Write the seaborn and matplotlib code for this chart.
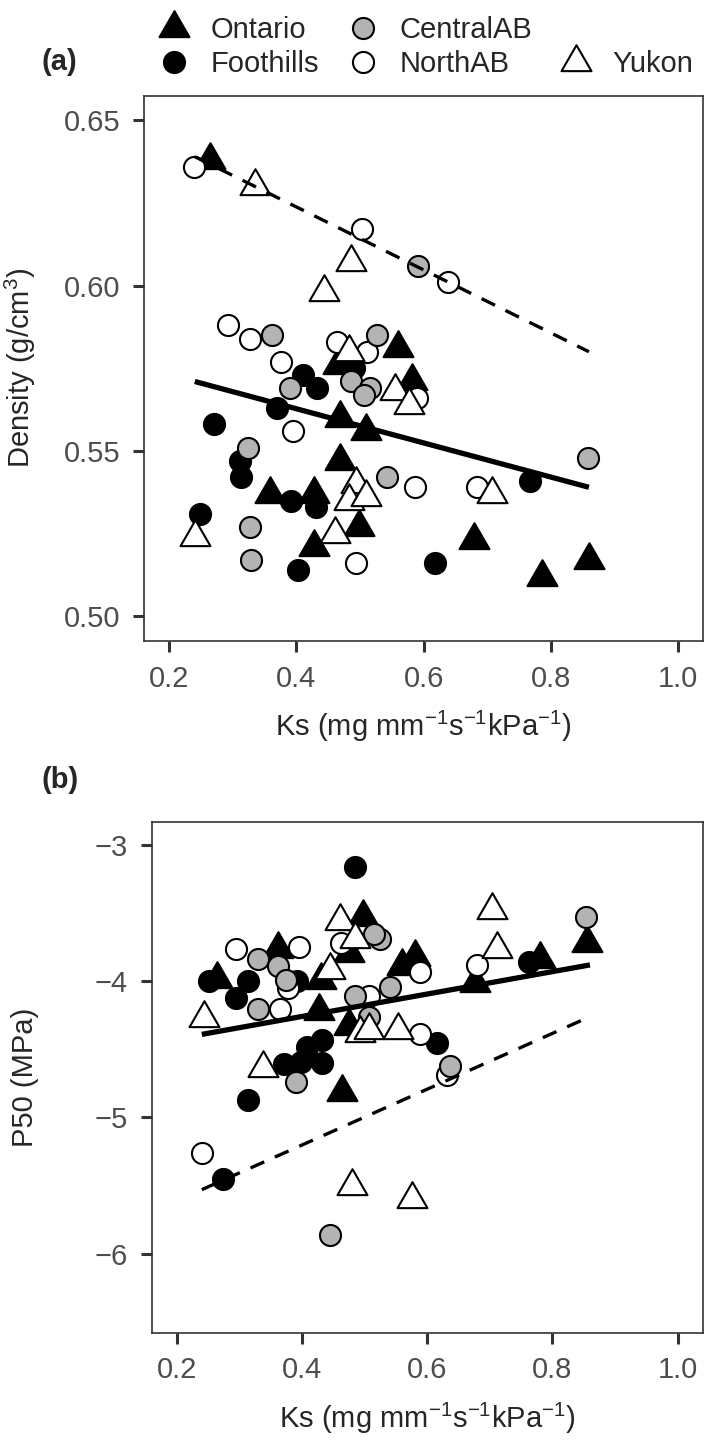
import numpy as np
import pandas as pd
import matplotlib
matplotlib.use("Agg")
import matplotlib.pyplot as plt
from matplotlib.lines import Line2D
from matplotlib.path import Path
import seaborn as sns

# ---- data ----
sites = ["Ontario", "Foothills", "CentralAB", "NorthAB", "Yukon"]

# (a) density vs Ks
ont_ks_a = [0.264, 0.559, 0.465, 0.582, 0.469, 0.509, 0.469, 0.359, 0.427, 0.498, 0.427, 0.679, 0.860, 0.786]
ont_dens = [0.638, 0.581, 0.576, 0.571, 0.560, 0.556, 0.547, 0.537, 0.537, 0.527, 0.521, 0.523, 0.517, 0.512]
foot_ks_a = [0.490, 0.411, 0.432, 0.369, 0.271, 0.311, 0.313, 0.392, 0.430, 0.248, 0.768, 0.618, 0.403]
foot_dens = [0.575, 0.573, 0.569, 0.563, 0.558, 0.547, 0.542, 0.535, 0.533, 0.531, 0.541, 0.516, 0.514]
cab_ks_a = [0.591, 0.362, 0.527, 0.390, 0.485, 0.516, 0.506, 0.324, 0.543, 0.858, 0.327, 0.328]
cab_dens = [0.606, 0.585, 0.585, 0.569, 0.571, 0.569, 0.567, 0.551, 0.542, 0.548, 0.527, 0.517]
nab_ks_a = [0.238, 0.503, 0.639, 0.293, 0.327, 0.464, 0.376, 0.511, 0.590, 0.395, 0.587, 0.684, 0.493]
nab_dens = [0.636, 0.617, 0.601, 0.588, 0.584, 0.583, 0.577, 0.580, 0.566, 0.556, 0.539, 0.539, 0.516]
yuk_ks_a = [0.334, 0.486, 0.443, 0.482, 0.555, 0.577, 0.493, 0.482, 0.509, 0.241, 0.461, 0.707]
yuk_dens = [0.630, 0.607, 0.598, 0.580, 0.568, 0.564, 0.540, 0.535, 0.536, 0.524, 0.525, 0.537]

# (b) P50 vs Ks
ont_ks_b = [0.498, 0.475, 0.361, 0.430, 0.265, 0.560, 0.581, 0.427, 0.475, 0.464, 0.855, 0.780, 0.677]
ont_p50 = [-3.53, -3.79, -3.76, -3.99, -3.98, -3.89, -3.82, -4.22, -4.33, -4.81, -3.72, -3.84, -4.01]
foot_ks_b = [0.484, 0.252, 0.314, 0.392, 0.294, 0.616, 0.432, 0.408, 0.371, 0.398, 0.432, 0.314, 0.274, 0.762]
foot_p50 = [-3.16, -4.00, -4.00, -4.00, -4.12, -4.45, -4.43, -4.48, -4.61, -4.59, -4.60, -4.87, -5.45, -3.86]
cab_ks_b = [0.525, 0.515, 0.329, 0.361, 0.375, 0.329, 0.541, 0.485, 0.507, 0.391, 0.445, 0.637, 0.853]
cab_p50 = [-3.69, -3.65, -3.84, -3.89, -3.99, -4.20, -4.04, -4.11, -4.26, -4.74, -5.86, -4.62, -3.53]
nab_ks_b = [0.463, 0.294, 0.395, 0.377, 0.365, 0.588, 0.507, 0.589, 0.241, 0.631, 0.680]
nab_p50 = [-3.72, -3.76, -3.75, -4.05, -4.20, -3.93, -4.11, -4.39, -5.26, -4.69, -3.88]
yuk_ks_b = [0.461, 0.485, 0.445, 0.244, 0.493, 0.507, 0.554, 0.337, 0.480, 0.576, 0.703, 0.711]
yuk_p50 = [-3.56, -3.69, -3.92, -4.27, -4.38, -4.36, -4.36, -4.64, -5.50, -5.60, -3.48, -3.76]

# fitted lines (end points)
fit_ks = [0.24, 0.86]
dens_fit_all = [0.571, 0.539]
dens_fit_dash = [0.639, 0.580]
p50_fit_all = [-4.39, -3.88]
p50_fit_dash = [-5.53, -4.26]

df_a = pd.concat([
    pd.DataFrame({"ks": ont_ks_a, "val": ont_dens, "site": "Ontario"}),
    pd.DataFrame({"ks": foot_ks_a, "val": foot_dens, "site": "Foothills"}),
    pd.DataFrame({"ks": nab_ks_a, "val": nab_dens, "site": "NorthAB"}),
    pd.DataFrame({"ks": cab_ks_a, "val": cab_dens, "site": "CentralAB"}),
    pd.DataFrame({"ks": yuk_ks_a, "val": yuk_dens, "site": "Yukon"}),
])
df_b = pd.concat([
    pd.DataFrame({"ks": ont_ks_b, "val": ont_p50, "site": "Ontario"}),
    pd.DataFrame({"ks": foot_ks_b, "val": foot_p50, "site": "Foothills"}),
    pd.DataFrame({"ks": nab_ks_b, "val": nab_p50, "site": "NorthAB"}),
    pd.DataFrame({"ks": cab_ks_b, "val": cab_p50, "site": "CentralAB"}),
    pd.DataFrame({"ks": yuk_ks_b, "val": yuk_p50, "site": "Yukon"}),
])

# ---- style ----
sns.set_style("ticks")
plt.rcParams["font.family"] = ["Liberation Sans", "DejaVu Sans"]
plt.rcParams["mathtext.fontset"] = "custom"
plt.rcParams["mathtext.rm"] = "Liberation Sans"
plt.rcParams["mathtext.it"] = "Liberation Sans"
plt.rcParams["mathtext.default"] = "regular"

FS = 21
# closed equilateral triangle, centred on its centroid
tri = Path([(-1, -0.577), (1, -0.577), (0, 1.155), (-1, -0.577)], closed=True)
site_style = {
    "Ontario": (tri, "black", 620),
    "Foothills": ("o", "black", 230),
    "CentralAB": ("o", "#b3b3b3", 230),
    "NorthAB": ("o", "white", 230),
    "Yukon": (tri, "white", 620),
}
order = ["Ontario", "Foothills", "NorthAB", "CentralAB", "Yukon"]

fig = plt.figure(figsize=(7.09, 14.47), dpi=100)
ax_a = fig.add_axes([0.203, 0.557, 0.789, 0.377])
ax_b = fig.add_axes([0.214, 0.079, 0.777, 0.353])

ks_label = "Ks (mg mm$^{-1}$s$^{-1}$kPa$^{-1}$)"


def draw_panel(ax, df, fit_all, fit_dash):
    for s in order:
        mk, fc, size = site_style[s]
        sns.scatterplot(data=df[df.site == s], x="ks", y="val", marker=mk, s=size,
                        color=fc, edgecolor="black", linewidth=1.5, ax=ax,
                        legend=False, zorder=3)
    ax.plot(fit_ks, fit_all, color="black", lw=3.8, solid_capstyle="butt", zorder=5)
    ax.plot(fit_ks, fit_dash, color="black", lw=2.4, dashes=(4.5, 3.5), zorder=5)
    ax.set_xlim(0.16, 1.04)
    ax.set_xticks([0.2, 0.4, 0.6, 0.8, 1.0])
    ax.set_xlabel(ks_label, fontsize=FS, labelpad=12)
    for sp in ax.spines.values():
        sp.set_visible(True)
        sp.set_linewidth(1.2)
        sp.set_color("#333333")
    ax.tick_params(axis="both", labelsize=FS, labelcolor="#4d4d4d", length=8,
                   width=2.2, color="#333333", pad=9)


draw_panel(ax_a, df_a, dens_fit_all, dens_fit_dash)
ax_a.set_ylim(0.4925, 0.6575)
ax_a.set_yticks([0.50, 0.55, 0.60, 0.65])
ax_a.set_yticklabels(["0.50", "0.55", "0.60", "0.65"])
ax_a.set_ylabel("Density (g/cm$^3$)", fontsize=FS)
ax_a.yaxis.set_label_coords(-0.19, 0.5)

draw_panel(ax_b, df_b, p50_fit_all, p50_fit_dash)
ax_b.set_ylim(-6.58, -2.83)
ax_b.set_yticks([-3, -4, -5, -6])
ax_b.set_ylabel("P50 (MPa)", fontsize=FS)
ax_b.yaxis.set_label_coords(-0.205, 0.5)

fig.text(0.058, 0.957, "(a)", fontsize=FS, fontweight="bold", va="center")
fig.text(0.058, 0.461, "(b)", fontsize=FS, fontweight="bold", va="center")

# legend fills column-wise; an empty slot puts Yukon on the second row
handles = []
for s in ["Ontario", "Foothills", "CentralAB", "NorthAB", None, "Yukon"]:
    if s is None:
        handles.append(Line2D([], [], linestyle="none", marker=None, label=" "))
        continue
    mk, fc, size = site_style[s]
    handles.append(Line2D([], [], linestyle="none", marker=mk, markersize=np.sqrt(size),
                          markerfacecolor=fc, markeredgecolor="black", markeredgewidth=1.5,
                          label=s))
fig.legend(handles=handles, ncol=3, loc="upper left", bbox_to_anchor=(0.225, 0.989),
           frameon=False, fontsize=FS, handlelength=1.0, handletextpad=0.75,
           columnspacing=1.0, labelspacing=0.2, borderpad=0, borderaxespad=0)

fig.savefig("out.png", dpi=100)
